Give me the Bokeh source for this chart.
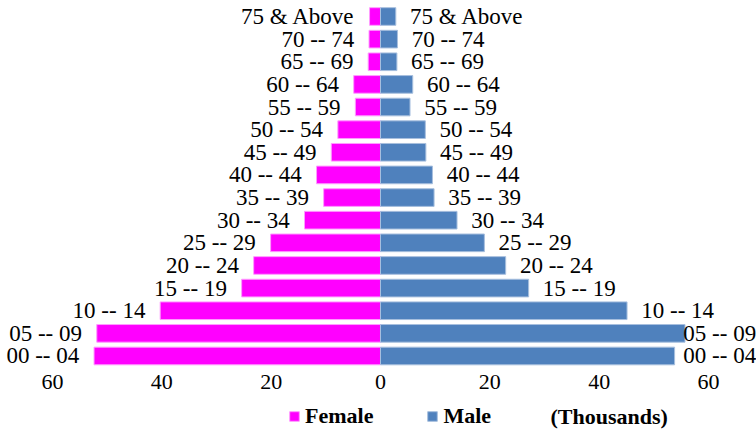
import numpy as np
from bokeh.plotting import figure
from bokeh.models import Range1d, Legend, LegendItem, Label, ColumnDataSource
from bokeh.core.properties import value
from bokeh.embed import file_html
from bokeh.resources import INLINE

age_groups = ["00 -- 04", "05 -- 09", "10 -- 14", "15 -- 19", "20 -- 24", "25 -- 29",
              "30 -- 34", "35 -- 39", "40 -- 44", "45 -- 49", "50 -- 54", "55 -- 59",
              "60 -- 64", "65 -- 69", "70 -- 74", "75 & Above"]
female = [52.4, 51.9, 40.3, 25.4, 23.2, 20.1, 13.9, 10.4, 11.7, 9.0, 7.8, 4.6, 4.9, 2.25, 2.1, 2.0]
male = [53.8, 55.7, 45.1, 27.1, 22.9, 19.0, 14.0, 9.8, 9.5, 8.3, 8.2, 5.4, 5.9, 3.0, 3.1, 2.8]
tick_values = [-60, -40, -20, 0, 20, 40, 60]
tick_labels = ["60", "40", "20", "0", "20", "40", "60"]

FONT = "Liberation Serif"

y = np.arange(len(age_groups))
fem = np.array(female)
mal = np.array(male)

src = ColumnDataSource(dict(
    y=y, label=age_groups,
    f_left=-fem, m_right=mal,
    f_lab=-(fem + 2.7),
    m_lab=np.minimum(mal + 2.6, 55.4),
))

# tick-label row sits just below the lowest age group
tick_row = -1.13
tick_src = ColumnDataSource(dict(x=tick_values, y=[tick_row] * len(tick_values), t=tick_labels))

p = figure(width=756, height=429, output_backend="svg", toolbar_location=None,
           x_range=Range1d(-69.51, 68.78), y_range=Range1d(-3.248, 15.707),
           min_border_left=0, min_border_right=0, min_border_top=0, min_border_bottom=0)
p.outline_line_color = None
p.grid.visible = False
p.axis.visible = False

fr = p.hbar(y="y", left="f_left", right=0, height=0.78, source=src,
            fill_color="#FF00FF", line_color="#FF9CFF", line_width=1)
mr = p.hbar(y="y", left=0, right="m_right", height=0.78, source=src,
            fill_color="#4F81BD", line_color="#A7BFDE", line_width=1)

p.text(x="f_lab", y="y", text="label", source=src, text_align="right", text_baseline="middle",
       text_font=value(FONT), text_font_size="23px", text_color="#000000")
p.text(x="m_lab", y="y", text="label", source=src, text_align="left", text_baseline="middle",
       text_font=value(FONT), text_font_size="23px", text_color="#000000")

# x tick labels (absolute values on both sides of zero)
p.text(x="x", y="y", text="t", source=tick_src, text_align="center", text_baseline="middle",
       text_font=value(FONT), text_font_size="22px", text_color="#000000")

legend = Legend(items=[LegendItem(label="Female", renderers=[fr]),
                       LegendItem(label="Male", renderers=[mr])],
                orientation="horizontal", location=(288, 0),
                glyph_width=12, glyph_height=12, label_standoff=5, spacing=53,
                padding=0, margin=0, border_line_color=None, background_fill_alpha=0,
                label_text_font=FONT, label_text_font_style="bold",
                label_text_font_size="22px", label_text_color="#000000")
p.add_layout(legend, "center")

p.add_layout(Label(x=550, y=13, x_units="screen", y_units="screen", text="(Thousands)",
                   text_font=FONT, text_font_style="bold", text_font_size="22px",
                   text_baseline="middle", text_color="#000000"))

open("out.html", "w").write(file_html(p, INLINE))
